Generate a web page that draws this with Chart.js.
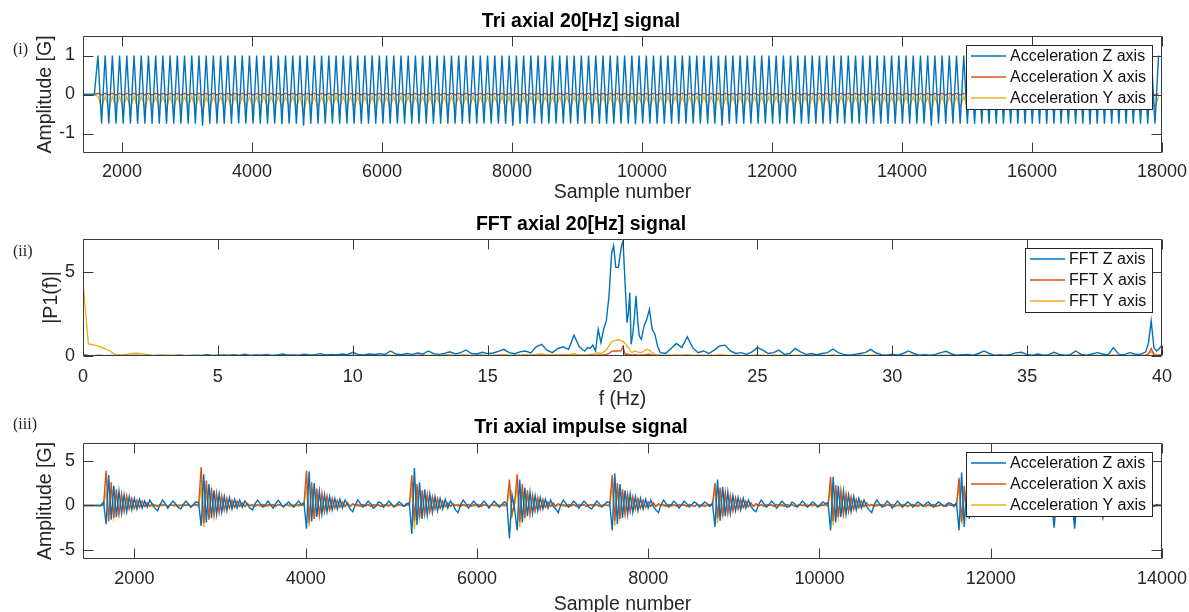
<!DOCTYPE html>
<html>
<head>
<meta charset="utf-8">
<title>Tri axial signals</title>
<script src="https://cdn.jsdelivr.net/npm/chart.js@4.4.1/dist/chart.umd.min.js"></script>
<style>
  html, body { margin: 0; padding: 0; background: #fff; }
  body { position: relative; width: 1189px; height: 612px; overflow: hidden; }
  canvas { position: absolute; left: 0; }
  .tag { position: absolute; left: 13px; font: 16px "Liberation Serif", "Times New Roman", serif; line-height: 16px; color: #222; }
</style>
</head>
<body>
<canvas id="c1" width="1189" height="210" style="top:0px"></canvas>
<canvas id="c2" width="1189" height="215" style="top:200px"></canvas>
<canvas id="c3" width="1189" height="215" style="top:405px"></canvas>
<div class="tag" style="top:41px">(i)</div>
<div class="tag" style="top:243px">(ii)</div>
<div class="tag" style="top:416px">(iii)</div>
<script>
// ---- (i) tri axial 20 Hz signal: one value every half period, from sample 1408, step 55.5
const s1Start = 1408, s1Step = 55.5;
const z1 = [
  0,0,0,0,1,-.75,1,-.75,1,-.75,1,-.75,1,-.75,1,-.75,1,-.75,1,-.75,
  1,-.75,1,-.75,1,-.75,1,-.75,1,-.75,1,-.75,1,-.8,1,-.75,1,-.75,1,-.75,
  1,-.75,1,-.74,1,-.75,1,-.75,1,-.75,1,-.75,1,-.75,1,-.76,1,-.75,1,-.75,
  1,-.8,1,-.75,1,-.75,1,-.75,1,-.75,1,-.75,1,-.75,1,-.75,1,-.75,1,-.75,
  1,-.75,1,-.75,1,-.75,1,-.75,1,-.75,1,-.75,1,-.75,1,-.75,1,-.75,1,-.75,
  1,-.75,1,-.75,1,-.75,1,-.75,1,-.75,1,-.75,1,-.75,1,-.75,1,-.75,1,-.8,
  1,-.75,1,-.75,1,-.74,1,-.75,1,-.75,1,-.75,1,-.75,1,-.75,1,-.75,1,-.75,
  1,-.75,1,-.75,1,-.75,1,-.75,1,-.75,1,-.75,1,-.76,1,-.75,1,-.75,1,-.75,
  1,-.75,1,-.75,1,-.75,1,-.75,1,-.75,1,-.75,1,-.75,1,-.75,1,-.8,1,-.75,
  1,-.75,1,-.75,1,-.75,1,-.75,1,-.75,1,-.75,1,-.75,1,-.75,1,-.75,1,-.75,
  1,-.75,1,-.75,1,-.75,1,-.75,1,-.74,1,-.75,1,-.75,1,-.75,1,-.75,1,-.75,
  1,-.75,1,-.75,1,-.75,1,-.75,1,-.75,1,-.75,1,-.75,1,-.8,1,-.75,1,-.75,
  1,-.75,1,-.75,1,-.75,1,-.75,1,-.75,1,-.75,1,-.75,1,-.75,1,-.75,1,-.75,
  1,-.75,1,-.75,1,-.75,1,-.75,1,-.75,1,-.75,1,-.75,1,-.75,1,-.75,1,-.77,
  1,-.75,1,-.75,1,-.75,1,-.75,1,-.75,1,-.75,1,-.75,1,-.75,1,-.75,1
];
const x1 = [
  0,0,0,0,.03,-.01,.03,-.01,.03,-.01,.03,-.01,.03,-.01,.03,-.01,.03,-.01,.03,-.01,
  .03,-.01,.03,-.01,.03,-.01,.03,-.01,.03,-.01,.03,-.01,.03,-.01,.03,-.01,.03,-.01,.03,-.01,
  .03,-.01,.03,-.01,.03,-.01,.03,-.01,.03,-.01,.03,-.01,.03,-.01,.03,-.01,.03,-.01,.03,-.01,
  .03,-.01,.03,-.01,.03,-.01,.03,-.01,.03,-.01,.03,-.01,.03,-.01,.03,-.01,.03,-.01,.03,-.01,
  .03,-.01,.03,-.01,.03,-.01,.03,-.01,.03,-.01,.03,-.01,.03,-.01,.03,-.01,.03,-.01,.03,-.01,
  .03,-.01,.03,-.01,.03,-.01,.03,-.01,.03,-.01,.03,-.01,.03,-.01,.03,-.01,.03,-.01,.03,-.01,
  .03,-.01,.03,-.01,.03,-.01,.03,-.01,.03,-.01,.03,-.01,.03,-.01,.03,-.01,.03,-.01,.03,-.01,
  .03,-.01,.03,-.01,.03,-.01,.03,-.01,.03,-.01,.03,-.01,.03,-.01,.03,-.01,.03,-.01,.03,-.01,
  .03,-.01,.03,-.01,.03,-.01,.03,-.01,.03,-.01,.03,-.01,.03,-.01,.03,-.01,.03,-.01,.03,-.01,
  .03,-.01,.03,-.01,.03,-.01,.03,-.01,.03,-.01,.03,-.01,.03,-.01,.03,-.01,.03,-.01,.03,-.01,
  .03,-.01,.03,-.01,.03,-.01,.03,-.01,.03,-.01,.03,-.01,.03,-.01,.03,-.01,.03,-.01,.03,-.01,
  .03,-.01,.03,-.01,.03,-.01,.03,-.01,.03,-.01,.03,-.01,.03,-.01,.03,-.01,.03,-.01,.03,-.01,
  .03,-.01,.03,-.01,.03,-.01,.03,-.01,.03,-.01,.03,-.01,.03,-.01,.03,-.01,.03,-.01,.03,-.01,
  .03,-.01,.03,-.01,.03,-.01,.03,-.01,.03,-.01,.03,-.01,.03,-.01,.03,-.01,.03,-.01,.03,-.01,
  .03,-.01,.03,-.01,.03,-.01,.03,-.01,.03,-.01,.03,-.01,.03,-.01,.03,-.01,.03,-.01,.03
];
const y1 = [
  0,0,0,0,-.05,-.33,-.05,-.33,-.05,-.33,-.05,-.33,-.05,-.33,-.05,-.33,-.05,-.33,-.05,-.33,
  -.05,-.33,-.05,-.33,-.05,-.33,-.05,-.33,-.05,-.33,-.05,-.33,-.05,-.45,-.05,-.33,-.05,-.33,-.05,-.33,
  -.05,-.33,-.05,-.33,-.05,-.33,-.05,-.33,-.05,-.33,-.05,-.33,-.05,-.33,-.05,-.33,-.05,-.33,-.05,-.33,
  -.05,-.45,-.05,-.33,-.05,-.33,-.05,-.33,-.05,-.33,-.05,-.33,-.05,-.33,-.05,-.33,-.05,-.33,-.05,-.33,
  -.05,-.33,-.05,-.33,-.05,-.33,-.05,-.33,-.05,-.33,-.05,-.33,-.05,-.33,-.05,-.33,-.05,-.33,-.05,-.33,
  -.05,-.33,-.05,-.33,-.05,-.33,-.05,-.33,-.05,-.33,-.05,-.33,-.05,-.33,-.05,-.33,-.05,-.33,-.05,-.45,
  -.05,-.33,-.05,-.33,-.05,-.33,-.05,-.33,-.05,-.33,-.05,-.33,-.05,-.33,-.05,-.33,-.05,-.33,-.05,-.33,
  -.05,-.33,-.05,-.33,-.05,-.33,-.05,-.33,-.05,-.33,-.05,-.33,-.05,-.33,-.05,-.33,-.05,-.33,-.05,-.33,
  -.05,-.33,-.05,-.33,-.05,-.33,-.05,-.33,-.05,-.33,-.05,-.33,-.05,-.33,-.05,-.33,-.05,-.45,-.05,-.33,
  -.05,-.33,-.05,-.33,-.05,-.33,-.05,-.33,-.05,-.33,-.05,-.33,-.05,-.33,-.05,-.33,-.05,-.33,-.05,-.33,
  -.05,-.33,-.05,-.33,-.05,-.33,-.05,-.33,-.05,-.33,-.05,-.33,-.05,-.33,-.05,-.33,-.05,-.33,-.05,-.33,
  -.05,-.33,-.05,-.33,-.05,-.33,-.05,-.33,-.05,-.33,-.05,-.33,-.05,-.33,-.05,-.45,-.05,-.33,-.05,-.33,
  -.05,-.33,-.05,-.33,-.05,-.33,-.05,-.33,-.05,-.33,-.05,-.33,-.05,-.33,-.05,-.33,-.05,-.33,-.05,-.33,
  -.05,-.33,-.05,-.33,-.05,-.33,-.05,-.33,-.05,-.33,-.05,-.33,-.05,-.33,-.05,-.33,-.05,-.33,-.05,-.33,
  -.05,-.33,-.05,-.33,-.05,-.33,-.05,-.33,-.05,-.33,-.05,-.33,-.05,-.33,-.05,-.33,-.05,-.33,-.05
];
const xTicks1 = [2000, 4000, 6000, 8000, 10000, 12000, 14000, 16000, 18000];
const yTicks1 = [-1, 0, 1];

// ---- (ii) FFT of the 20 Hz signal
const fftF = [
  0,0.2,0.4,0.6,0.8,1,1.2,1.4,1.6,1.8,
  2,2.2,2.4,2.6,2.8,3,3.2,3.4,3.6,3.8,
  4,4.2,4.4,4.6,4.8,5,5.2,5.4,5.6,5.8,
  6,6.2,6.4,6.6,6.8,7,7.2,7.4,7.6,7.8,
  8,8.2,8.4,8.6,8.8,9,9.2,9.4,9.6,9.8,
  10,10.2,10.4,10.6,10.8,11,11.2,11.4,11.6,11.8,
  12,12.2,12.4,12.6,12.8,13,13.2,13.4,13.6,13.8,
  14,14.2,14.4,14.6,14.8,15,15.2,15.4,15.6,15.8,
  16,16.2,16.4,16.6,16.8,17,17.2,17.4,17.6,17.8,
  18,18.1,18.2,18.3,18.4,18.5,18.6,18.7,18.8,18.9,
  19,19.1,19.2,19.3,19.4,19.5,19.6,19.67,19.75,19.85,
  19.95,20.02,20.1,20.17,20.22,20.27,20.32,20.38,20.44,20.5,
  20.56,20.62,20.7,20.8,20.9,21,21.1,21.2,21.3,21.4,
  21.6,21.8,22,22.2,22.4,22.6,22.8,23,23.2,23.4,
  23.6,23.8,24,24.2,24.4,24.6,24.8,25,25.2,25.4,
  25.6,25.8,26,26.2,26.4,26.6,26.8,27,27.2,27.4,
  27.6,27.8,28,28.2,28.4,28.6,28.8,29,29.2,29.4,
  29.6,29.8,30,30.2,30.4,30.6,30.8,31,31.2,31.4,
  31.6,31.8,32,32.2,32.4,32.6,32.8,33,33.2,33.4,
  33.6,33.8,34,34.2,34.4,34.6,34.8,35,35.2,35.4,
  35.6,35.8,36,36.2,36.4,36.6,36.8,37,37.2,37.4,
  37.6,37.8,38,38.2,38.4,38.6,38.8,39,39.2,39.4,
  39.5,39.6,39.7,39.8,39.9,40
];
const fftZ = [
  .05,.03,.02,.03,.02,.03,.02,.03,.02,.04,
  .03,.02,.03,.02,.03,.04,.02,.03,.05,.02,
  .03,.04,.03,.07,.03,.04,.06,.03,.08,.04,
  .1,.04,.06,.05,.09,.04,.06,.12,.05,.07,
  .05,.1,.06,.08,.14,.06,.09,.07,.12,.08,
  .22,.1,.07,.12,.09,.14,.1,.3,.12,.08,
  .15,.1,.18,.12,.3,.14,.1,.16,.25,.12,
  .2,.36,.15,.12,.22,.14,.18,.28,.4,.2,
  .14,.25,.3,.18,.55,.7,.35,.2,.45,.55,
  .4,.8,1.25,.9,.55,.4,.3,.5,.45,.65,
  .3,1.6,.8,1.6,2.1,3.6,6.2,6.6,5.3,5.3,
  6.5,6.9,4.2,2,2.6,3.8,.7,1.3,2.3,3.6,
  2.2,1.2,1,1.8,2.2,2.8,1.6,1.3,.6,.2,
  .15,.45,.75,.5,1.15,.5,.2,.3,.15,.35,
  .6,.65,.3,.15,.2,.1,.25,.5,.35,.15,
  .2,.35,.1,.15,.45,.25,.1,.15,.08,.15,
  .2,.42,.2,.1,.05,.1,.15,.2,.4,.18,
  .08,.05,.1,.05,.15,.3,.15,.05,.08,.05,
  .1,.2,.28,.12,.05,.08,.1,.05,.15,.3,
  .15,.05,.08,.05,.1,.2,.22,.08,.05,.12,
  .05,.08,.22,.1,.05,.08,.3,.1,.05,.12,
  .2,.12,.06,.5,.1,.08,.2,.12,.1,.25,
  .8,2.1,.5,.3,.45,.65
];
const fftX = [
  .06,.03,.02,.03,.02,.02,.03,.02,.03,.02,
  .03,.02,.03,.02,.03,.02,.03,.02,.03,.02,
  .02,.03,.02,.03,.02,.03,.02,.03,.02,.03,
  .03,.02,.03,.02,.03,.02,.03,.02,.03,.02,
  .02,.03,.02,.03,.03,.02,.03,.02,.03,.02,
  .03,.02,.03,.02,.03,.03,.02,.03,.02,.03,
  .03,.02,.03,.03,.02,.03,.02,.03,.03,.02,
  .03,.04,.02,.03,.03,.02,.03,.04,.03,.02,
  .03,.03,.04,.03,.04,.05,.03,.03,.04,.03,
  .03,.04,.05,.04,.03,.03,.04,.03,.04,.05,
  .04,.06,.05,.08,.1,.15,.28,.3,.3,.3,
  .32,.55,.1,.12,.1,.08,.06,.07,.08,.06,
  .06,.05,.06,.07,.09,.1,.06,.05,.04,.03,
  .03,.02,.03,.02,.03,.02,.03,.02,.03,.02,
  .03,.02,.02,.03,.02,.03,.02,.03,.02,.02,
  .03,.02,.03,.02,.02,.03,.02,.03,.02,.03,
  .02,.03,.02,.02,.03,.02,.03,.02,.02,.03,
  .02,.03,.02,.03,.02,.02,.03,.02,.03,.02,
  .02,.03,.02,.03,.02,.03,.02,.02,.03,.02,
  .03,.02,.02,.03,.02,.03,.02,.03,.02,.02,
  .03,.02,.03,.02,.02,.03,.02,.03,.02,.03,
  .02,.03,.02,.03,.02,.03,.02,.03,.03,.04,
  .15,.45,.1,.04,.05,.06
];
const fftY = [
  4.4,.72,.66,.58,.45,.3,.08,.05,.1,.15,
  .16,.12,.08,.05,.04,.05,.04,.05,.03,.04,
  .03,.04,.03,.04,.03,.05,.03,.04,.03,.04,
  .03,.04,.03,.05,.03,.04,.03,.04,.03,.05,
  .03,.04,.03,.05,.04,.03,.04,.05,.03,.04,
  .05,.03,.04,.05,.03,.04,.06,.04,.03,.05,
  .04,.05,.03,.06,.04,.05,.04,.06,.05,.04,
  .05,.06,.04,.05,.07,.04,.05,.06,.08,.05,
  .06,.05,.08,.06,.1,.12,.07,.06,.1,.08,
  .08,.12,.15,.1,.08,.07,.06,.08,.1,.12,
  .08,.2,.15,.25,.35,.6,.85,.9,.95,.97,
  .92,.87,.75,.6,.5,.35,.25,.22,.3,.28,
  .25,.22,.2,.3,.4,.35,.2,.1,.06,.05,
  .04,.05,.06,.05,.08,.05,.04,.05,.04,.05,
  .06,.07,.04,.03,.04,.03,.04,.06,.05,.03,
  .04,.05,.03,.04,.05,.04,.03,.04,.03,.04,
  .03,.05,.04,.03,.02,.03,.04,.03,.05,.03,
  .02,.03,.04,.03,.04,.05,.03,.02,.03,.02,
  .03,.04,.05,.03,.02,.03,.04,.02,.03,.05,
  .03,.02,.03,.02,.03,.04,.05,.03,.02,.03,
  .02,.03,.04,.03,.02,.03,.05,.03,.02,.03,
  .04,.03,.02,.06,.03,.02,.04,.03,.03,.05,
  .12,.25,.08,.05,.06,.08
];
const fTicks = [0, 5, 10, 15, 20, 25, 30, 35, 40];
const pTicks = [0, 5];

// ---- (iii) tri axial impulse signal: one value every 30 samples from sample 1400
const s3Start = 1400, s3Step = 30;
const z3 = [
  0,0,0,0,0,0,0,0,.4,-2.1,3.4,-1.6,2.2,-1.3,1.6,-.9,1.2,-.7,1,-.5,
  .8,-.4,.7,-.3,.5,-.2,.6,.1,-.3,-.6,.1,.6,.2,-.3,.1,.5,.2,-.2,-.4,.1,
  .5,.2,-.2,.1,.4,.3,-2.3,3.5,-1.9,2.4,-1.4,1.7,-1,1.3,-.8,1,-.6,.9,-.4,.7,
  -.3,.6,-.2,.5,.1,-.3,-.5,.2,.6,.2,-.2,.1,.5,.1,-.3,.2,.6,.2,-.2,.1,
  .4,.1,-.2,.2,.5,.1,.3,-2.6,3.8,-1.8,2.5,-1.3,1.6,-1,1.2,-.7,1,-.5,.8,-.4,
  .7,-.3,.6,.1,-.4,-.7,.1,.6,.2,-.2,.1,.5,.2,-.3,-.1,.4,.3,-.2,.1,.5,
  .2,-.2,.1,.4,.2,-.1,.2,.3,-3.2,4.2,-2.2,2.6,-1.5,1.8,-1.1,1.3,-.8,1,-.6,.8,
  -.4,.7,-.3,.5,.1,-.5,-.8,.1,.6,.2,-.3,.1,.5,.2,-.2,.1,.5,.2,-.3,.1,
  .5,.2,-.2,.1,.4,.2,-3.7,1.2,-.4,-2.8,2.9,-1.9,2,-1.2,1.5,-.9,1.1,-.6,.9,-.4,
  .7,-.3,.6,-.1,-.4,-.8,.1,.6,.2,-.2,.1,.5,.2,-.3,.1,.5,.2,-.2,-.4,.1,
  .5,.2,-.2,.1,.4,.3,-2.8,3.6,-2.1,2.4,-1.4,1.7,-1,1.3,-.8,1,-.6,.8,-.4,.7,
  -.3,.6,-.1,-.5,-.8,.1,.6,.2,-.2,.1,.5,.2,-.3,.1,.5,.2,-.2,.1,.4,.2,
  -.2,.1,.4,.2,-.1,.3,-2.4,2.9,-1.7,2.1,-1.2,1.5,-.9,1.1,-.6,.9,-.5,.8,-.3,.6,
  -.1,-.5,-.7,.1,.6,.2,-.2,.1,.5,.2,-.3,.1,.5,.2,-.2,-.1,.4,.2,-.2,.1,
  .5,.2,-.2,.1,.4,.2,-.2,.1,.4,.2,.3,-2.8,3.2,-1.9,2.2,-1.3,1.6,-1,1.2,-.7,
  1,-.5,.8,-.3,.6,-.1,-.5,-.8,.1,.6,.2,-.2,.1,.5,.2,-.3,.1,.5,.2,-.2,
  .1,.4,.2,-.2,.1,.4,.2,-.1,.2,.4,.1,-.2,.1,.4,.2,-.1,.1,.3,.2,-.1,
  .3,-2.8,3.7,-2.4,2.2,-1.5,1.5,-.9,1.1,-.6,.8,-.4,.6,-.3,.4,-.2,.3,.1,-.2,.1,
  .2,-.1,.1,.2,-.1,.1,.2,-.1,.1,.2,-.1,.1,.2,-.1,.1,.2,-.1,.3,-2.5,.8,
  -.5,.3,-.1,.2,-.1,.4,-2.6,.9,-.6,.3,-.2,.2,-.1,.1,-.2,.1,-.1,-1.4,.3,-.1,
  .1,-.1,.1,0,.1,-.1,.1,0,.1,-.1,.1,0,.1,-.1,.1,0,.1,-.1,.1,0,0
];
const x3 = [
  0,0,0,0,0,0,0,0,.1,3.9,-1.8,2.6,-1.4,1.8,-1,1.3,-.7,1.1,-.4,.8,
  -.3,.6,-.2,.5,-.1,.3,-.1,.2,0,-.1,.1,0,.1,-.1,.1,0,.1,-.1,0,.1,
  0,.1,-.1,0,.1,0,4.3,-2,2.8,-1.6,2,-1.1,1.4,-.8,1.1,-.5,.8,-.3,.6,-.2,
  .5,-.1,.3,-.1,.2,0,.1,-.1,.1,0,.1,-.1,.1,0,.1,-.1,.1,0,-.1,.1,
  0,.1,-.1,0,.1,0,.1,3.9,-1.9,2.6,-1.5,1.9,-1.1,1.4,-.7,1.1,-.5,.8,-.3,.6,
  -.2,.4,-.1,.3,-.1,.2,0,.1,-.1,.1,0,.1,-.1,.1,0,.1,-.1,0,.1,0,
  .1,-.1,0,.1,0,-.1,.1,0,3.4,-1.7,2.4,-1.4,1.7,-1,1.3,-.7,1,-.4,.8,-.3,
  .5,-.1,.3,-.1,.2,0,.1,-.1,.1,0,.1,-.1,.1,0,.1,-.1,.1,0,-.1,.1,
  0,.1,-.1,0,.1,0,2.9,-1,.2,3.5,-1.8,2.4,-1.4,1.7,-1,1.2,-.6,.9,-.4,.7,
  -.2,.4,-.1,.3,-.1,.2,0,.1,-.1,.1,0,.1,-.1,.1,0,.1,-.1,0,.1,0,
  .1,-.1,0,.1,0,.1,3.4,-1.7,2.5,-1.5,1.8,-1,1.3,-.7,1,-.4,.8,-.3,.6,-.2,
  .4,-.1,.3,-.1,.2,0,.1,-.1,.1,0,.1,-.1,.1,0,.1,-.1,.1,0,-.1,.1,
  0,.1,-.1,0,.1,0,2.5,-1.4,2,-1.2,1.5,-.9,1.1,-.6,.9,-.4,.7,-.2,.5,-.1,
  .3,-.1,.2,0,.1,-.1,.1,0,.1,-.1,.1,0,.1,-.1,.1,0,.1,-.1,0,.1,
  0,.1,-.1,0,.1,0,-.1,.1,0,.1,0,3.2,-1.7,2.3,-1.3,1.7,-1,1.3,-.7,1,
  -.4,.7,-.2,.5,-.1,.3,0,.1,-.1,.1,0,.1,-.1,.1,0,.1,-.1,0,.1,0,
  .1,-.1,0,.1,0,-.1,.1,0,-.1,.1,0,.1,-.1,0,.1,0,-.1,.1,0,.1,
  0,3.1,-1.8,2.2,-1.3,1.6,-.9,1.2,-.6,.9,-.4,.6,-.3,.4,-.2,.3,-.1,.2,0,.1,
  -.1,.1,0,.1,-.1,0,.1,-.1,0,.1,-.1,0,.1,-.1,0,.1,-.1,.1,-1.2,.5,
  -.3,.1,0,.1,-.1,.2,-1.5,.6,-.3,.1,0,.1,-.1,0,.1,-.1,0,-.7,.2,0,
  .1,-.1,0,.1,-.1,0,.1,-.1,0,.1,-.1,0,.1,-.1,0,.1,-.1,0,.1,0,0
];
const y3 = [
  0,0,0,0,0,0,0,0,0,1.6,-1.7,1.9,-1.3,1.1,-.9,.8,-.6,.5,-.4,.3,
  -.3,.2,-.2,.1,-.1,.1,0,-.1,.1,0,-.1,.1,0,-.1,.1,0,-.1,.1,0,-.1,
  .1,0,-.1,.1,0,-.1,2,-2.4,1.8,-1.4,1.2,-1,.9,-.7,.6,-.5,.4,-.3,.3,-.2,
  .2,-.1,.1,-.1,.1,0,-.1,.1,0,-.1,.1,0,-.1,.1,0,-.1,.1,0,-.1,.1,
  0,-.1,.1,0,-.1,.1,0,2,-2.3,1.9,-1.4,1.2,-1,.8,-.7,.6,-.5,.4,-.3,.3,
  -.2,.2,-.1,.1,-.1,.1,0,-.1,.1,0,-.1,.1,0,-.1,.1,0,-.1,.1,0,-.1,
  .1,0,-.1,.1,0,-.1,.1,0,1.8,-2.6,1.7,-1.4,1.1,-.9,.8,-.6,.5,-.4,.3,-.3,
  .2,-.2,.1,-.1,.1,0,-.1,.1,0,-.1,.1,0,-.1,.1,0,-.1,.1,0,-.1,.1,
  0,-.1,.1,0,-.1,.1,1.8,-1.2,.3,2.1,-2.4,1.7,-1.3,1.1,-.9,.7,-.6,.5,-.4,.3,
  -.2,.2,-.1,.1,-.1,.1,0,-.1,.1,0,-.1,.1,0,-.1,.1,0,-.1,.1,0,-.1,
  .1,0,-.1,.1,0,-.1,2.2,-2.3,1.8,-1.3,1.1,-.9,.7,-.6,.5,-.4,.3,-.3,.2,-.2,
  .1,-.1,.1,-.1,.1,0,-.1,.1,0,-.1,.1,0,-.1,.1,0,-.1,.1,0,-.1,.1,
  0,-.1,.1,0,-.1,.1,1.8,-2,1.5,-1.2,1,-.8,.7,-.5,.5,-.4,.3,-.3,.2,-.2,
  .1,-.1,.1,-.1,.1,0,-.1,.1,0,-.1,.1,0,-.1,.1,0,-.1,.1,0,-.1,.1,
  0,-.1,.1,0,-.1,.1,0,-.1,.1,0,-.1,1.9,-2.2,1.6,-1.3,1.1,-.9,.7,-.6,.5,
  -.4,.3,-.3,.2,-.2,.1,-.1,.1,0,-.1,.1,0,-.1,.1,0,-.1,.1,0,-.1,.1,
  0,-.1,.1,0,-.1,.1,0,-.1,.1,0,-.1,.1,0,-.1,.1,0,-.1,.1,0,-.1,
  .1,2,-2.1,1.6,-1.2,1,-.8,.6,-.5,.4,-.3,.3,-.2,.2,-.1,.1,-.1,.1,0,-.1,
  .1,0,-.1,.1,0,-.1,.1,0,-.1,.1,0,-.1,.1,0,-.1,.1,0,-.1,-1.8,.4,
  -.3,.1,0,-.1,.1,0,-1.9,.5,-.3,.1,0,-.1,.1,0,-.1,.1,0,-.9,.2,0,
  -.1,.1,0,-.1,.1,0,-.1,.1,0,-.1,.1,0,-.1,.1,0,-.1,.1,0,-.1,.1,0
];
const xTicks3 = [2000, 4000, 6000, 8000, 10000, 12000, 14000];
const yTicks3 = [-5, 0, 5];

const colZ = '#0072BD', colX = '#D95319', colY = '#EDB120';
const FONT = '"Liberation Sans", Arial, Helvetica, sans-serif';
Chart.defaults.font.family = FONT;
Chart.defaults.color = '#262626';

function evenly(values, start, step) {
  return values.map((v, i) => ({ x: start + i * step, y: v }));
}
function paired(values, xs) {
  return values.map((v, i) => ({ x: xs[i], y: v }));
}

// box round the axes with inward ticks on all four sides
const axesBox = {
  id: 'axesBox',
  afterDatasetsDraw(chart) {
    const { ctx, chartArea: a, scales } = chart;
    const L = Math.round(a.left) + 0.5, R = Math.round(a.right) - 0.5;
    const T = Math.round(a.top) + 0.5, B = Math.round(a.bottom) - 0.5;
    ctx.save();
    ctx.strokeStyle = '#3a3a3a';
    ctx.lineWidth = 1;
    ctx.beginPath();
    ctx.rect(L, T, R - L, B - T);
    scales.x.ticks.forEach(t => {
      const px = Math.round(scales.x.getPixelForValue(t.value)) + 0.5;
      ctx.moveTo(px, B); ctx.lineTo(px, B - 10);
      ctx.moveTo(px, T); ctx.lineTo(px, T + 10);
    });
    scales.y.ticks.forEach(t => {
      const py = Math.round(scales.y.getPixelForValue(t.value)) + 0.5;
      ctx.moveTo(L, py); ctx.lineTo(L + 10, py);
      ctx.moveTo(R, py); ctx.lineTo(R - 10, py);
    });
    ctx.stroke();
    ctx.restore();
  }
};

// matlab style legend box in the upper right corner
const boxLegend = {
  id: 'boxLegend',
  afterDraw(chart) {
    const { ctx, chartArea: a } = chart;
    const sets = chart.data.datasets;
    ctx.save();
    ctx.font = '16px ' + FONT;
    const textW = Math.max(...sets.map(d => ctx.measureText(d.label).width));
    const rowH = 21, lineLen = 35;
    const w = Math.round(5 + lineLen + 4 + textW + 6), h = rowH * sets.length + 1;
    const x = Math.round(a.right - 10 - w), y = Math.round(a.top + 9);
    ctx.fillStyle = '#fff';
    ctx.fillRect(x, y, w, h);
    ctx.strokeStyle = '#262626';
    ctx.lineWidth = 1;
    ctx.strokeRect(x + 0.5, y + 0.5, w, h);
    sets.forEach((d, i) => {
      const cy = y + 11 + rowH * i;
      ctx.strokeStyle = d.borderColor;
      ctx.lineWidth = 1.6;
      ctx.beginPath();
      ctx.moveTo(x + 5, cy);
      ctx.lineTo(x + 5 + lineLen, cy);
      ctx.stroke();
      ctx.fillStyle = '#111';
      ctx.textBaseline = 'middle';
      ctx.fillText(d.label, x + 5 + lineLen + 4, cy + 1);
    });
    ctx.restore();
  }
};

function subplot(id, o) {
  const canvas = document.getElementById(id);
  const H = canvas.height;
  return new Chart(canvas, {
    type: 'line',
    data: {
      datasets: o.series.map(s => ({
        label: s.label, data: s.data, borderColor: s.color, backgroundColor: s.color,
        borderWidth: 1.4, pointRadius: 0, fill: false, tension: 0
      }))
    },
    options: {
      responsive: false,
      animation: false,
      events: [],
      layout: { autoPadding: false, padding: { left: 0, right: 27, top: 0, bottom: 0 } },
      plugins: {
        legend: { display: false },
        tooltip: { enabled: false },
        title: {
          display: true, text: o.title, color: '#000',
          font: { size: 19.5, weight: 'bold', lineHeight: 1.2 },
          padding: { top: o.titleTop, bottom: o.areaTop - o.titleTop - 23.4 }
        }
      },
      scales: {
        x: {
          type: 'linear', min: o.xMin, max: o.xMax,
          grid: { display: false, drawTicks: false }, border: { display: false },
          afterBuildTicks: s => { s.ticks = o.xTicks.map(v => ({ value: v })); },
          afterFit: s => { s.height = H - o.areaBottom; s.paddingLeft = 0; s.paddingRight = 0; },
          ticks: { padding: o.xTickPad, maxRotation: 0, autoSkip: false, font: { size: 18 }, callback: v => String(v) },
          title: { display: true, text: o.xTitle, font: { size: 19.5 }, padding: { top: 0, bottom: o.xTitleBottom } }
        },
        y: {
          min: o.yMin, max: o.yMax,
          grid: { display: false, drawTicks: false }, border: { display: false },
          afterBuildTicks: s => { s.ticks = o.yTicks.map(v => ({ value: v })); },
          afterFit: s => { s.width = 83; s.paddingTop = 0; s.paddingBottom = 0; },
          ticks: { padding: 8, font: { size: 18 }, callback: v => String(v) },
          title: { display: true, text: o.yTitle, font: { size: 19.5 }, padding: { top: o.yTitleLeft, bottom: 0 } }
        }
      }
    },
    plugins: [axesBox, boxLegend]
  });
}

subplot('c1', {
  title: 'Tri axial 20[Hz] signal', titleTop: 10, areaTop: 36, areaBottom: 153,
  xMin: 1400, xMax: 18000, xTicks: xTicks1, xTickPad: 8, xTitle: 'Sample number', xTitleBottom: 6,
  yMin: -1.5, yMax: 1.5, yTicks: yTicks1, yTitle: 'Amplitude [G]', yTitleLeft: 34,
  series: [
    { label: 'Acceleration Z axis', color: colZ, data: evenly(z1, s1Start, s1Step) },
    { label: 'Acceleration X axis', color: colX, data: evenly(x1, s1Start, s1Step) },
    { label: 'Acceleration Y axis', color: colY, data: evenly(y1, s1Start, s1Step) }
  ]
});

subplot('c2', {
  title: 'FFT axial 20[Hz] signal', titleTop: 13, areaTop: 39, areaBottom: 156,
  xMin: 0, xMax: 40, xTicks: fTicks, xTickPad: 10, xTitle: 'f (Hz)', xTitleBottom: 4,
  yMin: 0, yMax: 7, yTicks: pTicks, yTitle: '|P1(f)|', yTitleLeft: 40,
  series: [
    { label: 'FFT Z axis', color: colZ, data: paired(fftZ, fftF) },
    { label: 'FFT X axis', color: colX, data: paired(fftX, fftF) },
    { label: 'FFT Y axis', color: colY, data: paired(fftY, fftF) }
  ]
});

subplot('c3', {
  title: 'Tri axial impulse signal', titleTop: 11, areaTop: 38, areaBottom: 154,
  xMin: 1400, xMax: 14000, xTicks: xTicks3, xTickPad: 9, xTitle: 'Sample number', xTitleBottom: 4,
  yMin: -6, yMax: 7, yTicks: yTicks3, yTitle: 'Amplitude [G]', yTitleLeft: 34,
  series: [
    { label: 'Acceleration Z axis', color: colZ, data: evenly(z3, s3Start, s3Step) },
    { label: 'Acceleration X axis', color: colX, data: evenly(x3, s3Start, s3Step) },
    { label: 'Acceleration Y axis', color: colY, data: evenly(y3, s3Start, s3Step) }
  ]
});
</script>
</body>
</html>
